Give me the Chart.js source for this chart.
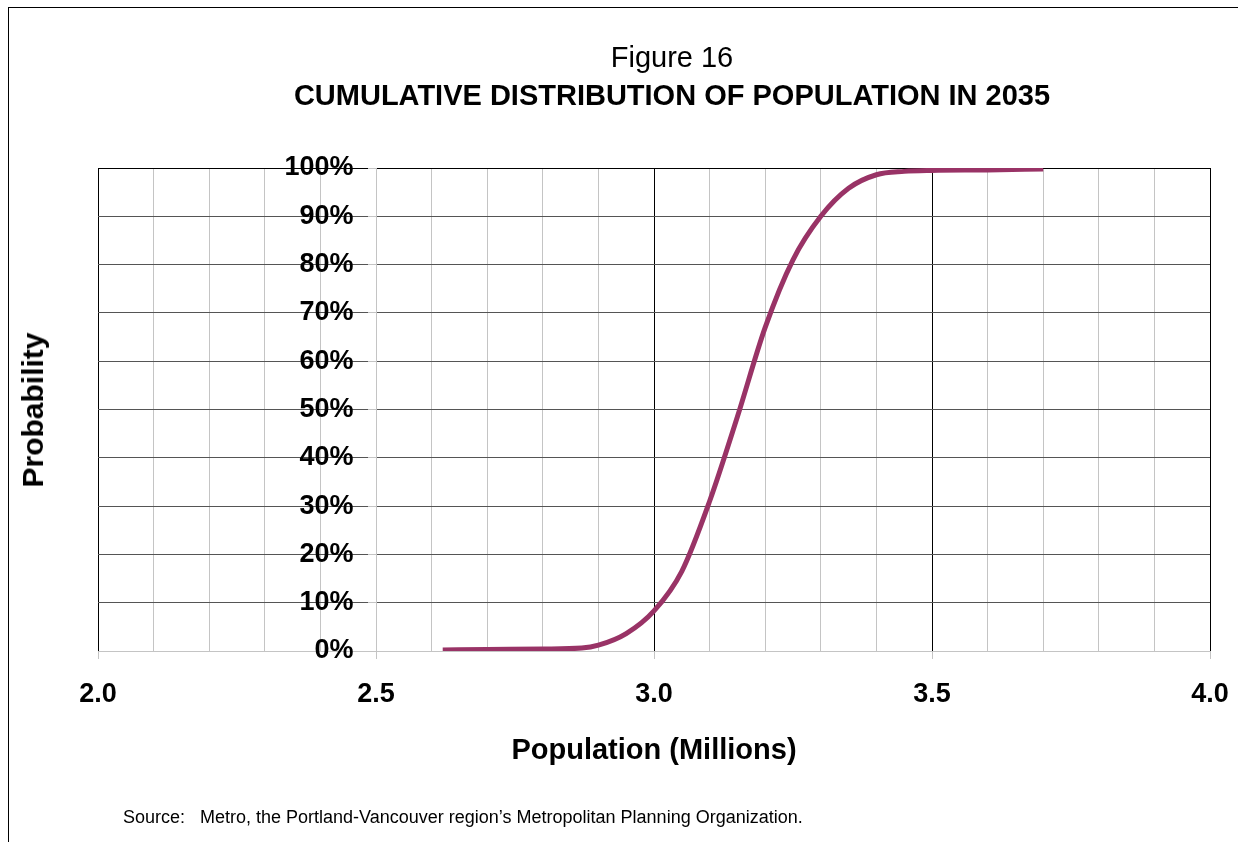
<!DOCTYPE html>
<html>
<head>
<meta charset="utf-8">
<title>Figure 16</title>
<script src="https://cdn.jsdelivr.net/npm/chart.js@4.4.1/dist/chart.umd.min.js"></script>
<style>
	body { margin: 0; background: #fff; font-family: "Liberation Sans", Arial, sans-serif; }
	#wrap { position: relative; width: 1238px; height: 842px; overflow: hidden; }
	#frame { position: absolute; left: 8px; top: 7px; width: 1240px; height: 850px; border-left: 1px solid #000; border-top: 1px solid #000; }
	canvas { position: absolute; left: 0; top: 0; }
	.txt { position: absolute; color: #000; white-space: nowrap; }
	.fig { left: 472px; width: 400px; top: 41px; font-size: 29px; line-height: 32px; text-align: center; }
	.head { left: 272px; width: 800px; top: 79px; font-size: 29px; line-height: 32px; font-weight: bold; text-align: center; }
	.ytitle { left: 33px; top: 410px; font-size: 30px; font-weight: bold; transform: translate(-50%, -50%) rotate(-90deg); }
	.source { left: 123px; top: 806px; font-size: 18px; line-height: 22px; }
</style>
</head>
<body>
<div id="wrap">
	<div id="frame"></div>
	<canvas id="chart" width="1238" height="842"></canvas>
	<div class="txt fig">Figure 16</div>
	<div class="txt head">CUMULATIVE DISTRIBUTION OF POPULATION IN 2035</div>
	<div class="txt ytitle">Probability</div>
	<div class="txt source">Source:&nbsp;&nbsp; Metro, the Portland-Vancouver region’s Metropolitan Planning Organization.</div>
</div>
<script>
'use strict';

// population (millions) and cumulative probability (%)
var POPULATION  = [2.62, 2.70, 2.80, 2.87, 2.90, 2.95, 3.00, 3.05, 3.10, 3.15, 3.20, 3.25, 3.30, 3.35, 3.40, 3.45, 3.50, 3.60, 3.70];
var PROBABILITY = [0.2,  0.3,  0.4,  0.6,  1.2,  3.6,  8.3,  16.5, 31,   48.5, 67,   81,   90,   95.8, 98.6, 99.3, 99.5, 99.6, 99.8];

var X_LABELS  = [2.0, 2.5, 3.0, 3.5, 4.0];
var X_DARK    = [2.0, 3.0, 3.5, 4.0];
var X_MIN = 2.0, X_MAX = 4.0, X_STEP = 0.1, Y_AXIS_AT = 2.5;
var Y_MIN = 0, Y_MAX = 100, Y_STEP = 10;

var LINE_COLOR  = '#993366';
var MINOR_GRID  = '#c4c4c4';
var FONT_FAMILY = '"Liberation Sans", Arial, sans-serif';

function near(list, v) {
	for (var i = 0; i < list.length; i++) {
		if (Math.abs(list[i] - v) < 1e-6) return true;
	}
	return false;
}

var points = POPULATION.map(function(x, i) {
	return { x: x, y: PROBABILITY[i] };
});

var ctx = document.getElementById('chart');

new Chart(ctx, {
	type: 'scatter',
	data: {
		datasets: [{
			data: points,
			showLine: true,
			borderColor: LINE_COLOR,
			borderWidth: 5,
			pointRadius: 0,
			cubicInterpolationMode: 'monotone',
			fill: false
		}]
	},
	options: {
		responsive: false,
		animation: false,
		layout: { padding: { top: 168, left: 98, right: 28, bottom: 73.6 } },
		plugins: {
			legend: { display: false },
			tooltip: { enabled: false }
		},
		scales: {
			x: {
				type: 'linear',
				min: X_MIN,
				max: X_MAX,
				border: { color: MINOR_GRID },
				grid: {
					tickLength: 8,
					color: function(c) { return near(X_DARK, c.tick.value) ? '#000' : MINOR_GRID; },
					tickColor: function(c) { return near(X_LABELS, c.tick.value) ? MINOR_GRID : 'rgba(0,0,0,0)'; }
				},
				ticks: {
					stepSize: X_STEP,
					maxTicksLimit: 50,
					autoSkip: false,
					maxRotation: 0,
					padding: 9,
					color: '#000',
					// tall line box pushes the labels down without widening the side padding
					font: { family: FONT_FAMILY, size: 27, weight: 'bold', lineHeight: 2 },
					callback: function(v) { return near(X_LABELS, v) ? Number(v).toFixed(1) : ''; }
				},
				title: {
					display: true,
					text: 'Population (Millions)',
					color: '#000',
					font: { family: FONT_FAMILY, size: 29, weight: 'bold' },
					padding: { top: 2.6, bottom: 0 }
				}
			},
			y: {
				position: { x: Y_AXIS_AT },
				min: Y_MIN,
				max: Y_MAX,
				border: { color: MINOR_GRID },
				grid: {
					tickLength: 8,
					tickColor: MINOR_GRID,
					color: function(c) {
						if (c.tick.value === Y_MAX) return '#000';
						if (c.tick.value === Y_MIN) return MINOR_GRID;
						return '#555';
					}
				},
				ticks: {
					stepSize: Y_STEP,
					z: 1,
					color: '#000',
					font: { family: FONT_FAMILY, size: 27, weight: 'bold' },
					// labels sit against the axis line, the trailing spaces keep the gap seen in the original
					callback: function(v) { return v + '%   '; }
				}
			}
		}
	}
});
</script>
</body>
</html>
